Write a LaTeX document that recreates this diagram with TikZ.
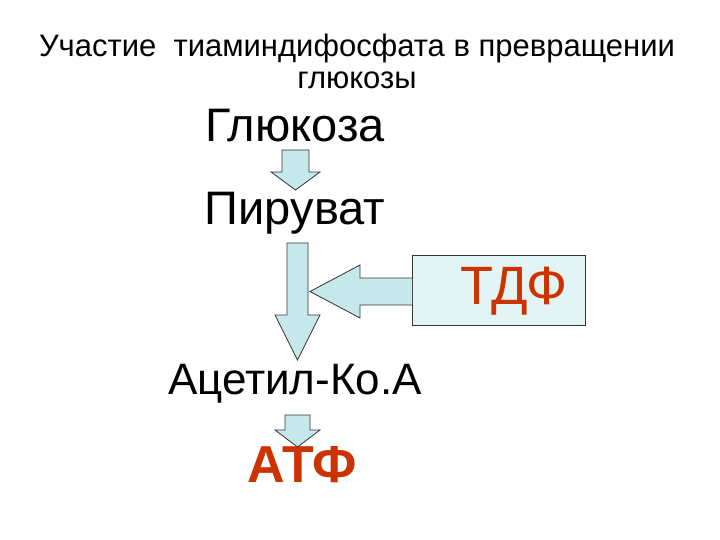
\documentclass[tikz,border=0pt]{standalone}
\usepackage{fontspec}
\setmainfont{Liberation Sans}
\definecolor{arrfill}{HTML}{C6E8EA}
\definecolor{boxfill}{HTML}{E2F4F4}
\definecolor{redt}{HTML}{CC3300}
\tikzset{blk/.style={draw=black!80,fill=arrfill,line width=0.8pt,line join=miter},
 big/.style={font=\fontsize{47}{52}\selectfont,inner sep=0pt}}
\begin{document}
\begin{tikzpicture}[x=1pt,y=-1pt]
\useasboundingbox (0,0) rectangle (720,540);
\node[font=\fontsize{31}{32}\selectfont,align=center] (title) at (357,61) {Участие\ \ тиаминдифосфата в превращении\\глюкозы};
\node[big] (glu) at (295,126) {Глюкоза};
\node[big] (pyr) at (295,213) {Пируват};
\node[big,font=\fontsize{44}{48}\selectfont] (acet) at (295,384) {Ацетил-Ко.А};
\node[big,font=\bfseries\fontsize{52}{56}\selectfont,text=redt] (atf) at (302,465) {АТФ};
\node[draw=black!80,fill=boxfill,line width=0.8pt,minimum width=173pt,minimum height=70pt,anchor=north west,inner sep=0pt] (box) at (412,255) {};
\node[font=\fontsize{54}{58}\selectfont,text=redt,inner sep=0pt] (tdf) at (514,291) {ТДФ};
% arrow 1
\draw[blk] (282,150)--(309,150)--(309,172)--(320,172)--(295.5,190)--(271,172)--(282,172)--cycle;
% arrow 2
\draw[blk] (287,243)--(308,243)--(308,315)--(320,315)--(297.5,360)--(275,315)--(287,315)--cycle;
% left arrow
\draw[blk] (box.west |- 0,278)--(360,278)--(360,265)--(310,291.5)--(360,318)--(360,305)--(box.west |- 0,305);
% arrow 3
\draw[blk] (285,415)--(310,415)--(310,430)--(320,430)--(297.5,447)--(275,430)--(285,430)--cycle;
\end{tikzpicture}
\end{document}
